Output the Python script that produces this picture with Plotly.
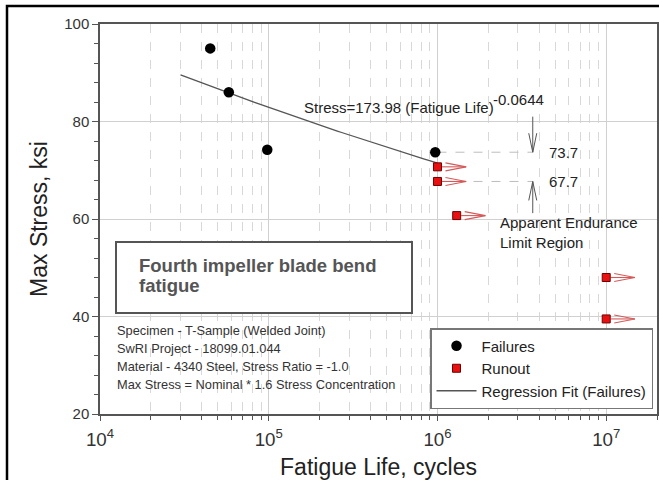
import numpy as np
import plotly.graph_objects as go

# ---- data -----------------------------------------------------------------
fail_life = [4.5e4, 5.8e4, 9.8e4, 9.7e5]
fail_stress = [95.0, 86.0, 74.2, 73.7]

runout_life = [1.0e6, 1.0e6, 1.3e6, 1.0e7, 1.0e7]
runout_stress = [70.7, 67.7, 60.7, 48.0, 39.5]

fit_coef = 173.98
fit_exp = -0.0644
fit_life_span = [3.0e4, 1.0e6]

endurance_upper = 73.7
endurance_lower = 67.7
endurance_line_span = [1.0e6, 3.67e6]
endurance_arrow_life = 3.67e6
endurance_arrow_from = [81.0, 61.2]

title_lines = ["Fourth impeller blade bend", "fatigue"]
note_lines = [
    "Specimen - T-Sample (Welded Joint)",
    "SwRI Project - 18099.01.044",
    "Material - 4340 Steel, Stress Ratio = -1.0",
    "Max Stress = Nominal * 1.6 Stress Concentration",
]

# ---- geometry helpers -------------------------------------------------------
W, H = 659, 480
ML, MR, MT, MB = 100, 2, 24, 66
X_RANGE = [4.0, np.log10(2e7)]
Y_RANGE = [20, 100]
PLOT_W = W - ML - MR
PLOT_H = H - MT - MB
PX_PER_DEC = PLOT_W / (X_RANGE[1] - X_RANGE[0])
PX_PER_KSI = PLOT_H / (Y_RANGE[1] - Y_RANGE[0])


def xshift(x, px):
    return x * 10 ** (px / PX_PER_DEC)


def ky(px):
    return px / PX_PER_KSI


FONT = "Arial, Liberation Sans, sans-serif"

fig = go.Figure()

# regression fit
fit_x = np.logspace(np.log10(fit_life_span[0]), np.log10(fit_life_span[1]), 60)
fit_y = fit_coef * fit_x ** fit_exp
fig.add_trace(go.Scatter(
    x=fit_x, y=fit_y, mode="lines", name="Regression Fit (Failures)",
    line=dict(color="#555555", width=1.3), legendrank=3,
))

# dashed endurance reference lines
for lvl in (endurance_upper, endurance_lower):
    fig.add_trace(go.Scatter(
        x=endurance_line_span, y=[lvl, lvl], mode="lines", showlegend=False,
        line=dict(color="#bdbdbd", width=1, dash="dash"), hoverinfo="skip",
    ))

# runout arrows
ax, ay = [], []
for x, y in zip(runout_life, runout_stress):
    tip = xshift(x, 28.7)
    base = xshift(x, 8)
    ax += [xshift(x, 4.5), tip, None, base, tip, base, None]
    ay += [y, y, None, y + ky(4), y, y - ky(4), None]
fig.add_trace(go.Scatter(
    x=ax, y=ay, mode="lines", showlegend=False, hoverinfo="skip",
    line=dict(color="#d45a5a", width=1.1),
))

# vertical arrows marking the endurance band
vx, vy = [], []
f = 10 ** (4 / PX_PER_DEC)
for start, tip_y, sgn in ((endurance_arrow_from[0], endurance_upper, 1),
                          (endurance_arrow_from[1], endurance_lower, -1)):
    xa = endurance_arrow_life
    vx += [xa, xa, None, xa / f, xa, xa * f, None]
    vy += [start, tip_y, None, tip_y + sgn * ky(19), tip_y, tip_y + sgn * ky(19), None]
fig.add_trace(go.Scatter(
    x=vx, y=vy, mode="lines", showlegend=False, hoverinfo="skip",
    line=dict(color="#555555", width=1),
))

# markers
fig.add_trace(go.Scatter(
    x=fail_life, y=fail_stress, mode="markers", name="Failures",
    marker=dict(symbol="circle", size=10.5, color="black"), legendrank=1,
))
fig.add_trace(go.Scatter(
    x=runout_life, y=runout_stress, mode="markers", name="Runout",
    marker=dict(symbol="square", size=8, color="#e81010",
                line=dict(color="#700000", width=1)), legendrank=2,
))

# ---- text -------------------------------------------------------------------
TXT = dict(size=15, color="#222222", family=FONT)
ann = []
ann.append(dict(x=np.log10(1.57e5), y=82.8, xref="x", yref="y",
                text="Stress=173.98 (Fatigue Life)", showarrow=False,
                xanchor="left", yanchor="middle", font=TXT))
ann.append(dict(x=np.log10(2.07e6), y=84.6, xref="x", yref="y",
                text=f"{fit_exp:g}", showarrow=False,
                xanchor="left", yanchor="middle", font=TXT))
for lvl in (endurance_upper, endurance_lower):
    ann.append(dict(x=np.log10(4.47e6), y=lvl, xref="x", yref="y",
                    text=f"{lvl:.1f}", showarrow=False,
                    xanchor="left", yanchor="middle", font=TXT))
ann.append(dict(x=np.log10(2.29e6), y=57.3, xref="x", yref="y",
                text="Apparent Endurance<br>Limit Region", showarrow=False,
                xanchor="left", yanchor="middle", align="left", font=TXT))

# title box text
for i, line in enumerate(title_lines):
    ann.append(dict(x=(137 - ML) / PLOT_W, y=(H - MB - 265 - 20 * i) / PLOT_H,
                    xref="paper", yref="paper", text=f"<b>{line}</b>",
                    showarrow=False, xanchor="left", yanchor="middle",
                    font=dict(size=18.5, color="#555555", family=FONT)))

for i, line in enumerate(note_lines):
    ann.append(dict(x=(115 - ML) / PLOT_W, y=(H - MB - 330 - 18.3 * i) / PLOT_H,
                    xref="paper", yref="paper",
                    text=line, showarrow=False, xanchor="left", yanchor="middle",
                    font=dict(size=12.8, color="#333333", family=FONT)))

shapes = [
    dict(type="rect", xref="paper", yref="paper",
         x0=(116 - ML) / PLOT_W, x1=(412 - ML) / PLOT_W,
         y0=(H - MB - 313) / PLOT_H, y1=(H - MB - 242) / PLOT_H,
         line=dict(color="#555555", width=2), fillcolor="white", layer="above"),
    dict(type="rect", xref="paper", yref="paper",
         x0=(7 - ML) / PLOT_W, x1=1.2,
         y0=-0.5, y1=(H - MB - 6) / PLOT_H,
         line=dict(color="black", width=2.5), layer="above"),
]

fig.update_layout(
    width=W, height=H,
    margin=dict(l=ML, r=MR, t=MT, b=MB, autoexpand=False),
    paper_bgcolor="white", plot_bgcolor="white",
    font=dict(family=FONT, size=15, color="#333333"),
    annotations=ann, shapes=shapes,
    legend=dict(x=(653 - ML) / PLOT_W, y=(H - MB - 409) / PLOT_H,
                xanchor="right", yanchor="bottom",
                bgcolor="white", bordercolor="#777777", borderwidth=1.5,
                font=dict(size=15, color="#222222", family=FONT),
                itemwidth=40, tracegroupgap=0),
)

fig.update_xaxes(
    type="log", range=X_RANGE, dtick=1, exponentformat="power",
    automargin=False,
    showline=True, linecolor="#555555", linewidth=1.5, mirror=True,
    ticks="outside", ticklen=5, tickcolor="#555555", ticklabelstandoff=3,
    showgrid=True, gridcolor="#d0d0d0", gridwidth=1, zeroline=False,
    tickfont=dict(size=15, color="#333333"),
    minor=dict(dtick="D1", ticks="outside", ticklen=4, tickcolor="#555555",
               showgrid=True, gridcolor="#d8d8d8", griddash="dash"),
    title=dict(text="Fatigue Life, cycles", font=dict(size=23, color="#222222"),
               standoff=15),
)
fig.update_yaxes(
    range=Y_RANGE, dtick=20, automargin=False,
    showline=True, linecolor="#555555", linewidth=1.5, mirror=True,
    ticks="outside", ticklen=6, tickcolor="#555555",
    showgrid=True, gridcolor="#d0d0d0", gridwidth=1, zeroline=False,
    tickfont=dict(size=15, color="#333333"),
    minor=dict(dtick=4, ticks="outside", ticklen=4, tickcolor="#555555",
               showgrid=False),
    title=dict(text="Max Stress, ksi", font=dict(size=23, color="#222222"),
               standoff=10),
)

fig.write_html("out.html")
